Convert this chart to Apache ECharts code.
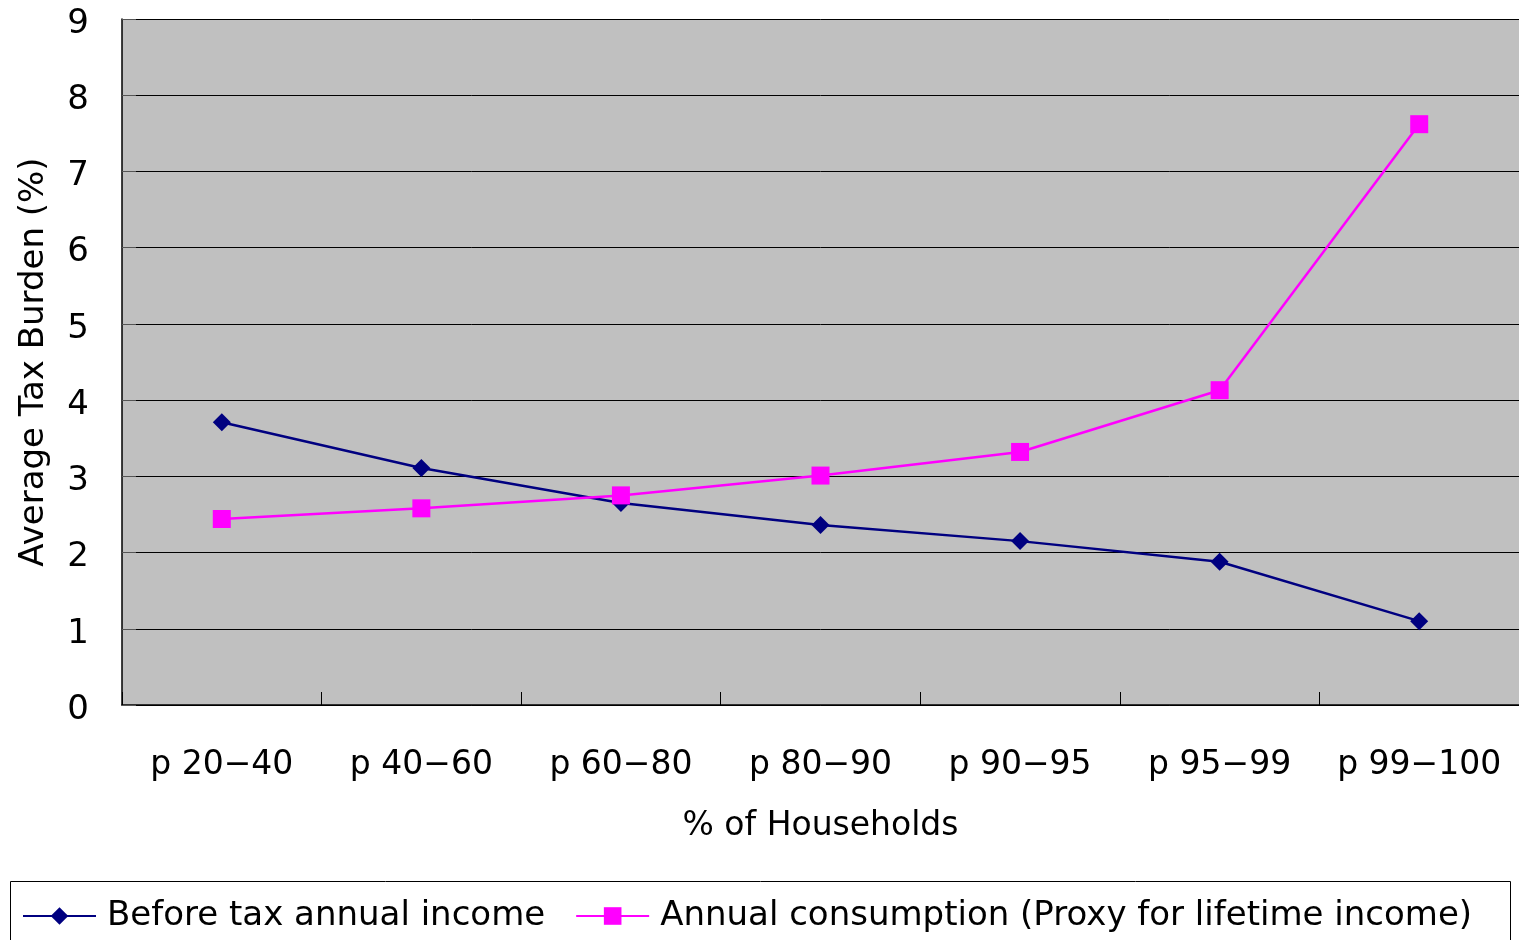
<!DOCTYPE html>
<html><head><meta charset="utf-8">
<script src="https://cdn.jsdelivr.net/npm/echarts@6/dist/echarts.min.js"></script>
<style>html,body{margin:0;padding:0;background:#fff}#c{width:1519px;height:940px}</style>
</head><body><div id="c"></div>
<script>
const categories = ['p 20\u221240','p 40\u221260','p 60\u221280','p 80\u221290','p 90\u221295','p 95\u221299','p 99\u2212100'];
const incomeValues = [3.71, 3.11, 2.65, 2.36, 2.15, 1.88, 1.10];
const consumptionValues = [2.44, 2.58, 2.75, 3.01, 3.32, 4.13, 7.62];
const yTicks = [0,1,2,3,4,5,6,7,8,9];
const seriesNames = ['Before tax annual income', 'Annual consumption (Proxy for lifetime income)'];

const FONT = '"DejaVu Sans", sans-serif';
const chart = echarts.init(document.getElementById('c'), null, {renderer:'canvas'});
chart.setOption({
  animation:false,
  backgroundColor:'#ffffff',
  textStyle:{fontFamily:FONT, color:'#000'},
  graphic:[{type:'rect', shape:{x:10.5,y:881.5,width:1500,height:70}, style:{fill:'none',stroke:'#000',lineWidth:1}, z:-1}],
  grid:{left:122, right:0, top:19, bottom:235, show:true, backgroundColor:'#c0c0c0', borderWidth:0,
        containLabel:false, outerBoundsMode:'none'},
  legend:{
    left:22, top:899, itemWidth:73, itemHeight:22, itemGap:30, padding:0,
    textStyle:{fontSize:34, fontFamily:FONT, color:'#000', padding:[0,0,0,6]},
    data:seriesNames
  },
  xAxis:{
    type:'category', data:categories, boundaryGap:true,
    name:'% of Households', nameLocation:'middle', nameGap:105,
    nameTextStyle:{fontSize:33, fontFamily:FONT, color:'#000'},
    axisLine:{lineStyle:{color:'#000', width:1.5}},
    axisTick:{show:true, inside:true, length:13, interval:0, lineStyle:{color:'#000'}},
    axisLabel:{fontSize:33, color:'#000', margin:44, interval:0, fontFamily:FONT},
    splitLine:{show:false}
  },
  yAxis:{
    type:'value', min:0, max:9, interval:1,
    name:'Average Tax Burden (%)', nameLocation:'middle', nameGap:71,
    nameTextStyle:{fontSize:34, fontFamily:FONT, color:'#000'},
    axisLine:{show:true, lineStyle:{color:'#000', width:1.5}},
    axisTick:{show:true, inside:true, length:14, lineStyle:{color:'#555'}},
    axisLabel:{fontSize:34, color:'#000', margin:33, fontFamily:FONT, verticalAlign:'top', lineHeight:10,
      formatter:function(v){return yTicks.indexOf(v)>=0 ? String(v) : '';}},
    splitLine:{show:true, lineStyle:{color:'#000', width:1}}
  },
  series:[
    {name:seriesNames[0], type:'line', data:incomeValues, symbol:'diamond', symbolSize:18,
     lineStyle:{color:'#000080', width:2.5}, itemStyle:{color:'#000080'}},
    {name:seriesNames[1], type:'line', data:consumptionValues, symbol:'rect', symbolSize:18,
     lineStyle:{color:'#ff00ff', width:2.5}, itemStyle:{color:'#ff00ff'}}
  ]
});
</script></body></html>
